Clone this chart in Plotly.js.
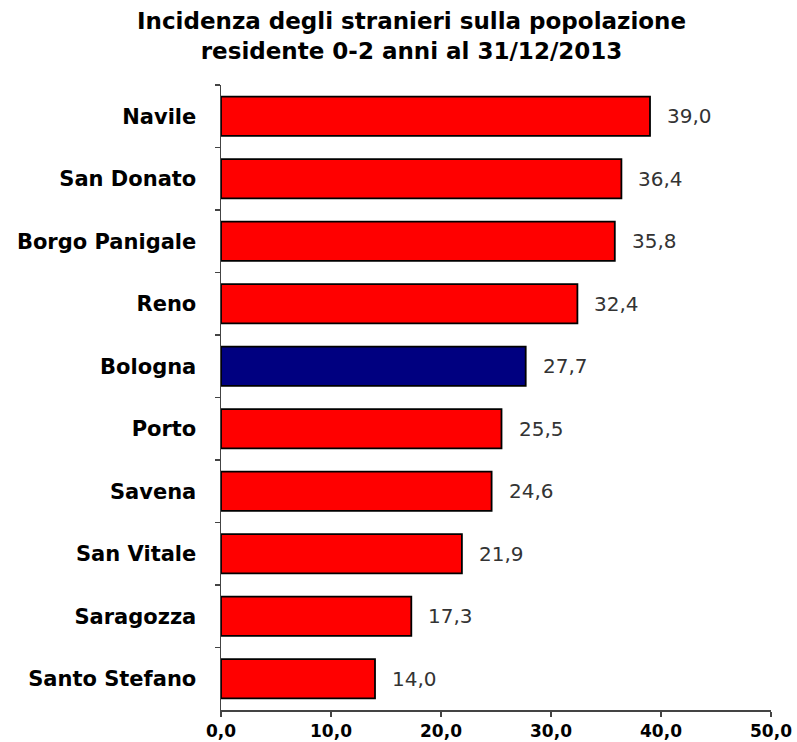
<!DOCTYPE html>
<html><head><meta charset="utf-8">
<script src="https://cdn.plot.ly/plotly-3.0.1.min.js"></script>
<style>body{margin:0;background:#fff}#chart{width:797px;height:742px}</style>
</head><body><div id="chart"></div>
<script>
const categories = ["Navile","San Donato","Borgo Panigale","Reno","Bologna","Porto","Savena","San Vitale","Saragozza","Santo Stefano"];
const values = [39.0,36.4,35.8,32.4,27.7,25.5,24.6,21.9,17.3,14.0];
const highlight = "Bologna";
const xTicks = [0,10,20,30,40,50];
const titleText = "<b>Incidenza degli stranieri sulla popolazione<br>residente 0-2 anni al 31/12/2013</b>";

const colors = categories.map(c => c === highlight ? "#000080" : "#FF0000");
const fmt = v => v.toFixed(1).replace(".", ",");

const trace = {
  type: "bar", orientation: "h",
  x: values, y: categories,
  marker: {color: colors, line: {color: "#000", width: 1.8}},
  hoverinfo: "none"
};

const annotations = categories.map((c, i) => ({
  x: values[i], y: c, xref: "x", yref: "y",
  text: fmt(values[i]), showarrow: false,
  xanchor: "left", xshift: 15,
  font: {family: "DejaVu Sans, sans-serif", size: 20, color: "#333"}
}));
annotations.push({
  text: titleText, xref: "paper", yref: "paper",
  x: 0.347, y: 1.127, xanchor: "center", yanchor: "top",
  showarrow: false, align: "center",
  font: {family: "DejaVu Sans, sans-serif", size: 23, color: "#000"}
});

const layout = {
  width: 797, height: 742,
  margin: {l: 221, r: 26, t: 85, b: 32},
  paper_bgcolor: "#fff", plot_bgcolor: "#fff",
  separators: ",.",
  bargap: 0.37,
  showlegend: false,
  xaxis: {
    range: [0, 50], tickvals: xTicks, tickformat: ".1f",
    ticks: "outside", ticklen: 5, tickcolor: "#444", tickwidth: 1.5,
    showline: true, linecolor: "#444", linewidth: 1.5,
    showgrid: false, zeroline: false, fixedrange: true,
    tickfont: {family: "DejaVu Sans, sans-serif", size: 17, color: "#000", weight: "bold"}
  },
  yaxis: {
    autorange: "reversed", type: "category",
    ticks: "outside", tickson: "boundaries", ticklen: 5, tickcolor: "#444", tickwidth: 1.5,
    showline: true, linecolor: "#444", linewidth: 1.5,
    showgrid: false, zeroline: false, ticklabelstandoff: 19,
    tickfont: {family: "DejaVu Sans, sans-serif", size: 21, color: "#000", weight: "bold"}
  },
  annotations: annotations
};

Plotly.newPlot("chart", [trace], layout, {displayModeBar: false, staticPlot: true});
</script></body></html>
